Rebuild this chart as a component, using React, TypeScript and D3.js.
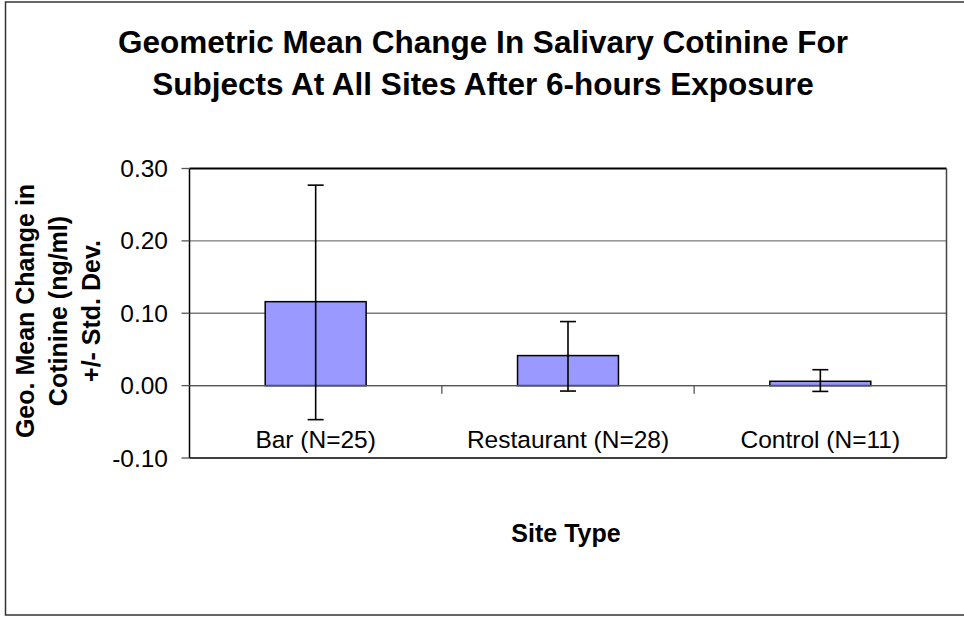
import * as d3 from 'd3';

const categories = ['Bar (N=25)', 'Restaurant (N=28)', 'Control (N=11)'];
const means = [0.116, 0.0415, 0.006];
const errUp = [0.161, 0.047, 0.016];
const errDown = [0.163, 0.049, 0.014];
const yTicks = [-0.1, 0, 0.1, 0.2, 0.3];
const titleLines = [
    'Geometric Mean Change In Salivary Cotinine For',
    'Subjects At All Sites After 6-hours Exposure',
];
const yTitleLines = ['Geo. Mean Change in', 'Cotinine (ng/ml)', '+/- Std. Dev.'];

const width = 964;
const height = 617;
const plot = { left: 189.5, right: 946.5, top: 168.5, bottom: 458 };
const font = '"Liberation Sans", Arial, sans-serif';

export default function App() {
    const x = d3.scaleBand(categories, [plot.left, plot.right]).paddingInner(0.6).paddingOuter(0.3);
    const y = d3.scaleLinear([-0.1, 0.3], [plot.bottom, plot.top]);
    const catStep = (plot.right - plot.left) / categories.length;
    // Excel style: plain hyphen for negatives
    const fmt = (v: number) => d3.format('.2f')(v).replace('\u2212', '-');
    const y0 = y(0);

    return (
        <svg width={width} height={height} style={{ position: 'absolute', left: 0, top: 0 }} fontFamily={font}>
            <rect x={0} y={0} width={width} height={height} fill="#fff" />
            <rect x={5.5} y={2} width={width + 4} height={613} fill="none" stroke="#333" strokeWidth={1.5} />

            {titleLines.map((t, i) => (
                <text key={i} x={483} y={53 + i * 42} textAnchor="middle" fontSize={31.5} fontWeight="bold">
                    {t}
                </text>
            ))}

            {/* gridlines */}
            {yTicks.slice(1, -1).map((t) => (
                <line key={t} x1={plot.left} x2={plot.right} y1={y(t)} y2={y(t)} stroke="#7a7a7a" strokeWidth={1.3} />
            ))}

            {/* plot border */}
            <line x1={plot.left} x2={plot.right} y1={plot.top} y2={plot.top} stroke="#000" strokeWidth={2} />
            <line x1={plot.right} x2={plot.right} y1={plot.top} y2={plot.bottom} stroke="#444" strokeWidth={1.5} />
            <line x1={plot.left} x2={plot.right} y1={plot.bottom} y2={plot.bottom} stroke="#000" strokeWidth={1.5} />
            <line x1={plot.left} x2={plot.left} y1={plot.top} y2={plot.bottom} stroke="#000" strokeWidth={1.5} />

            {/* y ticks and labels */}
            {yTicks.map((t) => (
                <g key={t}>
                    <line x1={plot.left - 8} x2={plot.left} y1={y(t)} y2={y(t)} stroke="#555" strokeWidth={1.3} />
                    <text x={168} y={y(t)} dy="0.35em" textAnchor="end" fontSize={24.5}>
                        {fmt(t)}
                    </text>
                </g>
            ))}

            {/* bars */}
            {categories.map((c, i) => (
                <rect
                    key={c}
                    x={x(c)}
                    y={y(means[i])}
                    width={x.bandwidth()}
                    height={y0 - y(means[i])}
                    fill="#9999ff"
                    stroke="#000"
                    strokeWidth={1.5}
                />
            ))}

            {/* category axis at zero */}
            <line x1={plot.left} x2={plot.right} y1={y0} y2={y0} stroke="#555" strokeWidth={1.3} />
            {d3.range(1, categories.length).map((k) => (
                <line
                    key={k}
                    x1={plot.left + k * catStep}
                    x2={plot.left + k * catStep}
                    y1={y0}
                    y2={y0 + 8}
                    stroke="#555"
                    strokeWidth={1.3}
                />
            ))}

            {/* error bars */}
            {categories.map((c, i) => {
                const cx = x(c) + x.bandwidth() / 2;
                const hi = y(means[i] + errUp[i]);
                const lo = y(means[i] - errDown[i]);
                return (
                    <g key={c} stroke="#000" strokeWidth={1.6}>
                        <line x1={cx} x2={cx} y1={hi} y2={lo} />
                        <line x1={cx - 8} x2={cx + 8} y1={hi} y2={hi} />
                        <line x1={cx - 8} x2={cx + 8} y1={lo} y2={lo} />
                    </g>
                );
            })}

            {/* category labels */}
            {categories.map((c) => (
                <text key={c} x={x(c) + x.bandwidth() / 2} y={447.5} textAnchor="middle" fontSize={24.5}>
                    {c}
                </text>
            ))}

            {/* axis titles */}
            <text x={566} y={541.5} textAnchor="middle" fontSize={25} fontWeight="bold">
                Site Type
            </text>
            {yTitleLines.map((t, i) => (
                <text
                    key={i}
                    transform={`translate(${33.5 + i * 33.3},311) rotate(-90)`}
                    textAnchor="middle"
                    fontSize={25}
                    fontWeight="bold"
                >
                    {t}
                </text>
            ))}
        </svg>
    );
}
